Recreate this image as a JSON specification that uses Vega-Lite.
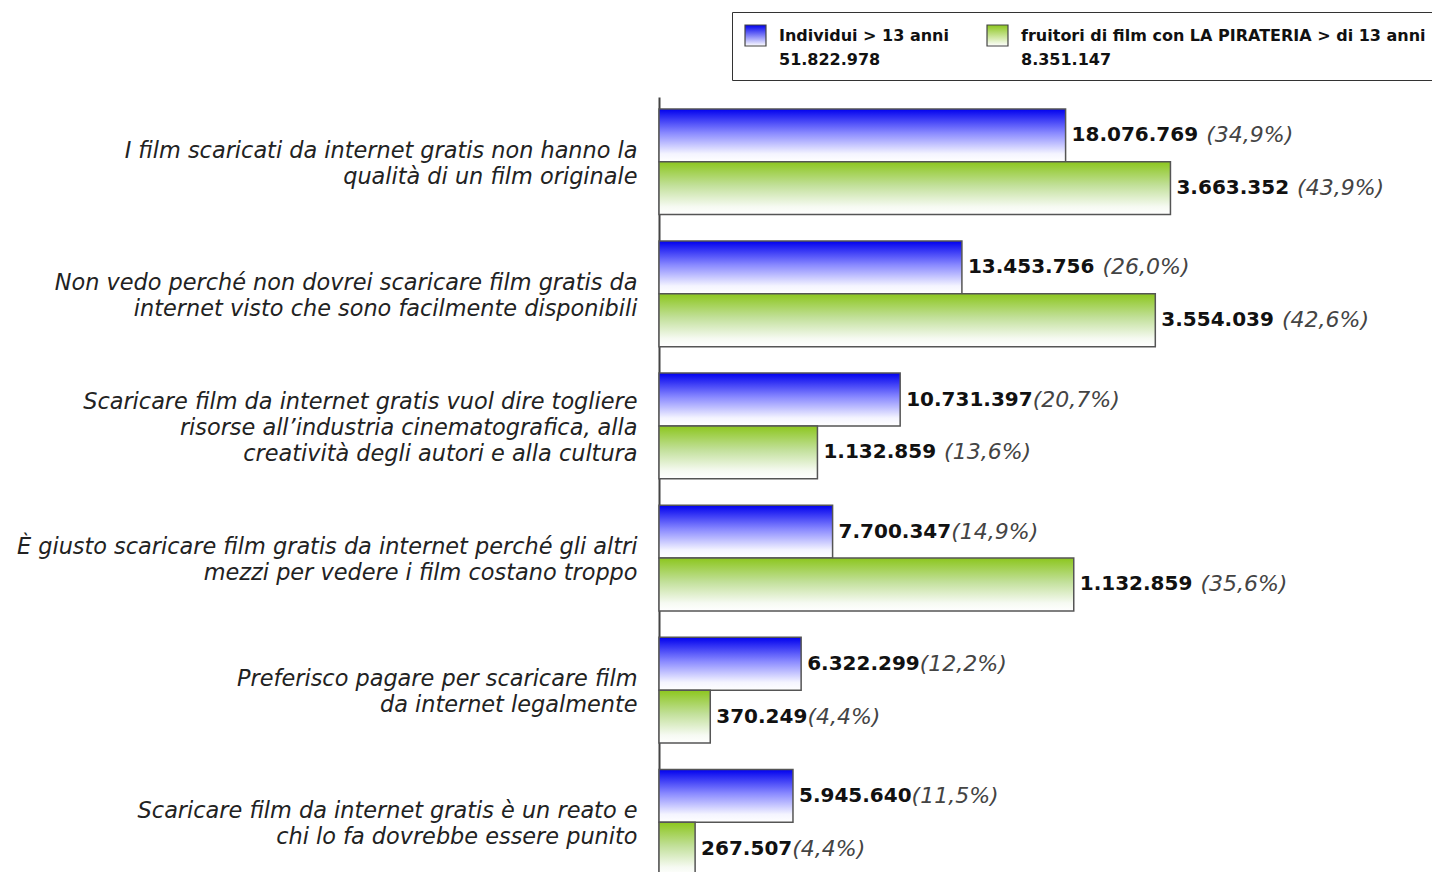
{
  "$schema": "https://vega.github.io/schema/vega-lite/v6.json",
  "width": 773,
  "height": 790,
  "autosize": {"type": "none"},
  "padding": {"left": 659, "top": 97, "right": 0, "bottom": 0},
  "background": "white",
  "config": {"view": {"stroke": null}, "style": {"guide-label": {"lineHeight": 24}}},
  "data": {"values": [
    {"cat": "I film scaricati da internet gratis non hanno la|qualità di un film originale", "series": "Individui > 13 anni|51.822.978", "pct": 34.9, "num": "18.076.769", "pl": "\u00a0(34,9%)"},
    {"cat": "I film scaricati da internet gratis non hanno la|qualità di un film originale", "series": "fruitori di film con LA PIRATERIA > di 13 anni|8.351.147", "pct": 43.9, "num": "3.663.352", "pl": "\u00a0(43,9%)"},
    {"cat": "Non vedo perché non dovrei scaricare film gratis da|internet visto che sono facilmente disponibili", "series": "Individui > 13 anni|51.822.978", "pct": 26.0, "num": "13.453.756", "pl": "\u00a0(26,0%)"},
    {"cat": "Non vedo perché non dovrei scaricare film gratis da|internet visto che sono facilmente disponibili", "series": "fruitori di film con LA PIRATERIA > di 13 anni|8.351.147", "pct": 42.6, "num": "3.554.039", "pl": "\u00a0(42,6%)"},
    {"cat": "Scaricare film da internet gratis vuol dire togliere|risorse all’industria cinematografica, alla|creatività degli autori e alla cultura", "series": "Individui > 13 anni|51.822.978", "pct": 20.7, "num": "10.731.397", "pl": "(20,7%)"},
    {"cat": "Scaricare film da internet gratis vuol dire togliere|risorse all’industria cinematografica, alla|creatività degli autori e alla cultura", "series": "fruitori di film con LA PIRATERIA > di 13 anni|8.351.147", "pct": 13.6, "num": "1.132.859", "pl": "\u00a0(13,6%)"},
    {"cat": "È giusto scaricare film gratis da internet perché gli altri|mezzi per vedere i film costano troppo", "series": "Individui > 13 anni|51.822.978", "pct": 14.9, "num": "7.700.347", "pl": "(14,9%)"},
    {"cat": "È giusto scaricare film gratis da internet perché gli altri|mezzi per vedere i film costano troppo", "series": "fruitori di film con LA PIRATERIA > di 13 anni|8.351.147", "pct": 35.6, "num": "1.132.859", "pl": "\u00a0(35,6%)"},
    {"cat": "Preferisco pagare per scaricare film|da internet legalmente", "series": "Individui > 13 anni|51.822.978", "pct": 12.2, "num": "6.322.299", "pl": "(12,2%)"},
    {"cat": "Preferisco pagare per scaricare film|da internet legalmente", "series": "fruitori di film con LA PIRATERIA > di 13 anni|8.351.147", "pct": 4.4, "num": "370.249", "pl": "(4,4%)"},
    {"cat": "Scaricare film da internet gratis è un reato e|chi lo fa dovrebbe essere punito", "series": "Individui > 13 anni|51.822.978", "pct": 11.5, "num": "5.945.640", "pl": "(11,5%)"},
    {"cat": "Scaricare film da internet gratis è un reato e|chi lo fa dovrebbe essere punito", "series": "fruitori di film con LA PIRATERIA > di 13 anni|8.351.147", "pct": 3.1, "num": "267.507", "pl": "(4,4%)"}
  ]},
  "encoding": {
    "y": {
      "field": "cat", "type": "nominal", "sort": null,
      "scale": {"paddingInner": 0.2, "paddingOuter": 0.09},
      "axis": {
        "title": null, "ticks": false, "domain": true, "domainColor": "#444", "domainWidth": 2,
        "labelExpr": "split(datum.label, '|')",
        "labelFont": "DejaVu Sans", "labelFontStyle": "italic", "labelFontSize": 22.4,
        "labelColor": "#222", "labelPadding": 22, "labelLimit": 800, "labelLineHeight": 26,
        "labelAlign": "right", "labelBaseline": "middle",
        "labelOffset": {"condition": {"test": "length(split(datum.value, '|')) > 2", "value": -24}, "value": -11}
      }
    },
    "yOffset": {"field": "series", "type": "nominal", "sort": null, "scale": {"paddingInner": 0, "paddingOuter": 0}},
    "x": {"field": "pct", "type": "quantitative", "scale": {"domain": [0, 66.35], "nice": false, "zero": true}, "axis": null}
  },
  "resolve": {"scale": {"stroke": "independent"}, "legend": {"stroke": "independent"}},
  "layer": [
    {
      "transform": [{"filter": "indexof(datum.series, 'Individui') == 0"}],
      "mark": {"type": "bar", "opacity": 0,
        "fill": {"gradient": "linear", "x1": 0, "y1": 0, "x2": 0, "y2": 1, "stops": [{"offset": 0, "color": "#0000ee"}, {"offset": 1, "color": "#ffffff"}]}},
      "encoding": {
        "stroke": {
          "field": "series", "type": "nominal",
          "scale": {"range": ["#444444"]},
          "legend": {
            "title": "\u00a0", "titleOrient": "right", "titlePadding": 480,
            "orient": "none", "legendX": 73, "legendY": -85,
            "labelExpr": "split(datum.label, '|')",
            "labelFont": "DejaVu Sans", "labelFontWeight": "bold", "labelFontSize": 16, "labelColor": "#111",
            "labelLimit": 600, "labelBaseline": "middle", "labelOffset": 12,
            "symbolType": "square", "symbolSize": 440, "symbolStrokeWidth": 1.2, "symbolOpacity": 1,
            "strokeColor": "#333", "padding": 12, "cornerRadius": 0
          }
        }
      }
    },
    {
      "transform": [{"filter": "indexof(datum.series, 'fruitori') == 0"}],
      "mark": {"type": "bar", "opacity": 0,
        "fill": {"gradient": "linear", "x1": 0, "y1": 0, "x2": 0, "y2": 1, "stops": [{"offset": 0, "color": "#8cc61e"}, {"offset": 1, "color": "#ffffff"}]}},
      "encoding": {
        "stroke": {
          "field": "series", "type": "nominal",
          "scale": {"range": ["#444444"]},
          "legend": {
            "title": null,
            "orient": "none", "legendX": 315, "legendY": -85,
            "labelExpr": "split(datum.label, '|')",
            "labelFont": "DejaVu Sans", "labelFontWeight": "bold", "labelFontSize": 16, "labelColor": "#111",
            "labelLimit": 600, "labelBaseline": "middle", "labelOffset": 12,
            "symbolType": "square", "symbolSize": 440, "symbolStrokeWidth": 1.2, "symbolOpacity": 1,
            "padding": 12, "cornerRadius": 0
          }
        }
      }
    },
    {
      "transform": [{"filter": "indexof(datum.series, 'Individui') == 0"}],
      "mark": {"type": "bar", "stroke": "#555", "strokeWidth": 1.5,
        "fill": {"gradient": "linear", "x1": 0, "y1": 0, "x2": 0, "y2": 1, "stops": [{"offset": 0, "color": "#0000ee"}, {"offset": 0.45, "color": "#8888ff"}, {"offset": 0.85, "color": "#f4f4ff"}, {"offset": 1, "color": "#ffffff"}]}}
    },
    {
      "transform": [{"filter": "indexof(datum.series, 'fruitori') == 0"}],
      "mark": {"type": "bar", "stroke": "#555", "strokeWidth": 1.5,
        "fill": {"gradient": "linear", "x1": 0, "y1": 0, "x2": 0, "y2": 1, "stops": [{"offset": 0, "color": "#8cc61e"}, {"offset": 0.45, "color": "#c2e09a"}, {"offset": 0.85, "color": "#f6faf2"}, {"offset": 1, "color": "#ffffff"}]}}
    },
    {
      "mark": {"type": "text", "align": "left", "baseline": "middle", "dx": 6, "font": "DejaVu Sans", "fontWeight": "bold", "fontSize": 20, "color": "#111"},
      "encoding": {"text": {"field": "num"}}
    },
    {
      "mark": {"type": "text", "align": "left", "baseline": "middle", "font": "DejaVu Sans", "fontStyle": "italic", "fontSize": 22, "color": "#444",
        "dx": {"expr": "6 + length(datum.num) * 13.92 - (length(datum.num) > 8 ? 2 : 1) * 6.32 + (indexof(datum.pl, '(') > 0 ? 8 : 0)"}},
      "encoding": {"text": {"field": "pl"}}
    }
  ]
}
